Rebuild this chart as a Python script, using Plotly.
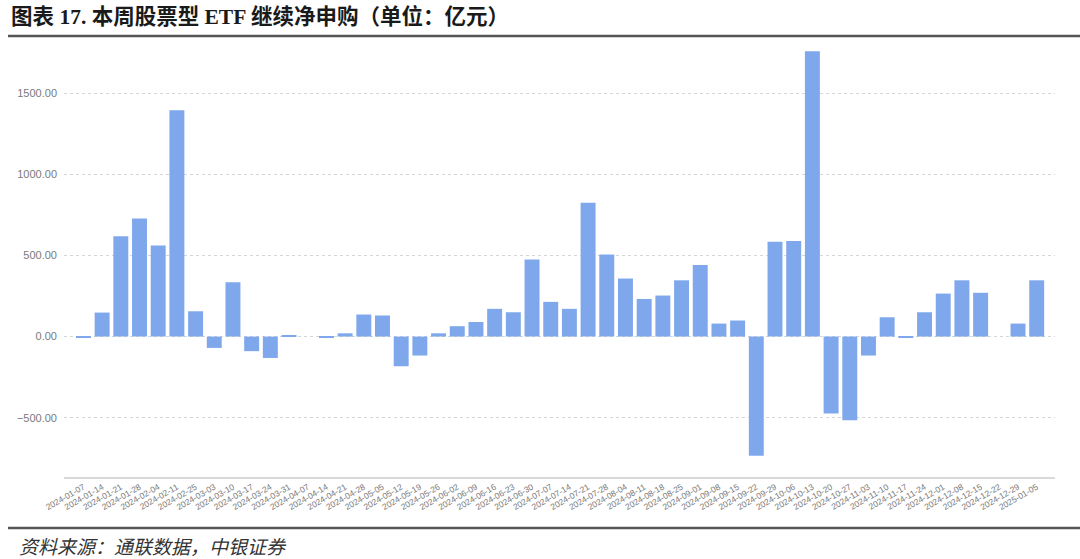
import plotly.graph_objects as go

dates = [
    "2024-01-07", "2024-01-14", "2024-01-21", "2024-01-28", "2024-02-04", "2024-02-11",
    "2024-02-25", "2024-03-03", "2024-03-10", "2024-03-17", "2024-03-24", "2024-03-31",
    "2024-04-07", "2024-04-14", "2024-04-21", "2024-04-28", "2024-05-05", "2024-05-12",
    "2024-05-19", "2024-05-26", "2024-06-02", "2024-06-09", "2024-06-16", "2024-06-23",
    "2024-06-30", "2024-07-07", "2024-07-14", "2024-07-21", "2024-07-28", "2024-08-04",
    "2024-08-11", "2024-08-18", "2024-08-25", "2024-09-01", "2024-09-08", "2024-09-15",
    "2024-09-22", "2024-09-29", "2024-10-06", "2024-10-13", "2024-10-20", "2024-10-27",
    "2024-11-03", "2024-11-10", "2024-11-17", "2024-11-24", "2024-12-01", "2024-12-08",
    "2024-12-15", "2024-12-22", "2024-12-29", "2025-01-05",
]

net_subscription = [
    -5, 148, 619, 728, 561, 1396,
    156, -70, 335, -90, -132, 4,
    None, -6, 20, 136, 130, -183,
    -117, 20, 64, 90, 171, 150,
    475, 214, 171, 825, 506, 358,
    232, 253, 347, 442, 80, 99,
    -735, 584, 590, 1760, -475, -516,
    -117, 119, -5, 150, 265, 347,
    270, None, 80, 347,
]

y_ticks = [-500, 0, 500, 1000, 1500]

title_text = "图表 17. 本周股票型 ETF 继续净申购（单位：亿元）"
source_text = "资料来源：通联数据，中银证券"

fig = go.Figure(
    go.Bar(
        x=dates,
        y=net_subscription,
        marker=dict(color="#7FA8EC", line=dict(width=0)),
    )
)

fig.update_layout(
    width=1080,
    height=559,
    margin=dict(l=64, r=25, t=45, b=82, autoexpand=False),
    paper_bgcolor="white",
    plot_bgcolor="white",
    bargap=0.2,
    showlegend=False,
    font=dict(family="Liberation Sans, Noto Sans CJK SC", color="#595959"),
)

fig.update_xaxes(
    type="category",
    range=[-1.04, 51.98],
    tickangle=-30,
    tickfont=dict(size=8.5, color="#7a7a7a"),
    showgrid=False,
    showline=True,
    linecolor="#d9d9d9",
    linewidth=2,
    ticks="",
    automargin=False,
)

fig.update_yaxes(
    range=[-866, 1798],
    tickvals=y_ticks,
    tickformat=".2f",
    tickfont=dict(size=11, color="#7a7a7a"),
    showgrid=True,
    gridcolor="#d6d6d6",
    griddash="dot",
    gridwidth=1,
    zeroline=False,
    showline=False,
    ticks="",
    ticklabelstandoff=6,
    automargin=False,
)

# Title and source
fig.add_annotation(
    text="<b>" + title_text + "</b>",
    xref="paper", yref="paper",
    x=(9 - 64) / 991, y=(477 - 16) / 432,
    xanchor="left", yanchor="middle",
    showarrow=False,
    font=dict(family="Liberation Serif, Noto Sans CJK SC", size=21.5, color="#1a1a1a"),
)
fig.add_annotation(
    text="<i>" + source_text + "</i>",
    xref="paper", yref="paper",
    x=(17 - 64) / 991, y=(477 - 545) / 432,
    xanchor="left", yanchor="middle",
    showarrow=False,
    font=dict(family="Noto Sans CJK SC", size=19, color="#333333"),
)

# Horizontal rules
for ypx, w in [(36, 2.5), (528, 2.5)]:
    fig.add_shape(
        type="line",
        xref="paper", yref="paper",
        x0=(8 - 64) / 991, x1=(1080 - 64) / 991,
        y0=(477 - ypx) / 432, y1=(477 - ypx) / 432,
        line=dict(color="#555555", width=w),
    )

fig.write_html(
    "out.html",
    config={"displayModeBar": False},
    post_script="document.body.style.margin='0';document.body.style.padding='0';",
)
